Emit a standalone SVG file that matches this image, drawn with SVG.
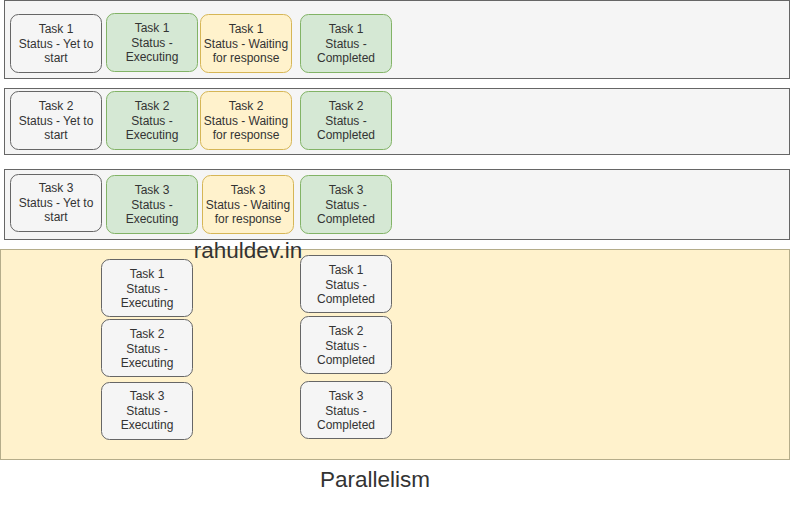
<svg xmlns="http://www.w3.org/2000/svg" width="791" height="520" viewBox="0 0 791 520">
<style>
text{font-family:"Liberation Sans",Arial,sans-serif;fill:#333333;text-anchor:middle}
.t{font-size:12px}
.big{font-size:22.5px}
.frame{fill:#f5f5f5;stroke:#666666;stroke-width:1}
.yframe{fill:#fff2cc;stroke:#b5ad8a;stroke-width:1}
.g{fill:#f5f5f5;stroke:#666666;stroke-width:1}
.gr{fill:#d5e8d4;stroke:#82b366;stroke-width:1}
.y{fill:#fff2cc;stroke:#d6b656;stroke-width:1}
</style>
<rect width="791" height="520" fill="#ffffff"/>
<g id="row1"><rect class="frame" x="4.5" y="0.5" width="785" height="78"/></g>
<g id="row2"><rect class="frame" x="4.5" y="88.5" width="785" height="66"/></g>
<g id="row3"><rect class="frame" x="4.5" y="169.5" width="785" height="70"/></g>
<g id="parallel"><rect class="yframe" x="0.5" y="249.5" width="789" height="210"/></g>

<g id="t1-yet"><rect class="g" x="10.5" y="14.5" width="91" height="58" rx="8"/>
<text class="t" x="56" y="33">Task 1</text><text class="t" x="56" y="47.5">Status - Yet to</text><text class="t" x="56" y="62">start</text></g>
<g id="t1-exec"><rect class="gr" x="106.5" y="13.5" width="91" height="58" rx="8"/>
<text class="t" x="152" y="32">Task 1</text><text class="t" x="152" y="46.5">Status -</text><text class="t" x="152" y="61">Executing</text></g>
<g id="t1-wait"><rect class="y" x="200.5" y="14.5" width="91" height="58" rx="8"/>
<text class="t" x="246" y="33">Task 1</text><text class="t" x="246" y="47.5">Status - Waiting</text><text class="t" x="246" y="62">for response</text></g>
<g id="t1-done"><rect class="gr" x="300.5" y="14.5" width="91" height="58" rx="8"/>
<text class="t" x="346" y="33">Task 1</text><text class="t" x="346" y="47.5">Status -</text><text class="t" x="346" y="62">Completed</text></g>

<g id="t2-yet"><rect class="g" x="10.5" y="91.5" width="91" height="58" rx="8"/>
<text class="t" x="56" y="110">Task 2</text><text class="t" x="56" y="124.5">Status - Yet to</text><text class="t" x="56" y="139">start</text></g>
<g id="t2-exec"><rect class="gr" x="106.5" y="91.5" width="91" height="58" rx="8"/>
<text class="t" x="152" y="110">Task 2</text><text class="t" x="152" y="124.5">Status -</text><text class="t" x="152" y="139">Executing</text></g>
<g id="t2-wait"><rect class="y" x="200.5" y="91.5" width="91" height="58" rx="8"/>
<text class="t" x="246" y="110">Task 2</text><text class="t" x="246" y="124.5">Status - Waiting</text><text class="t" x="246" y="139">for response</text></g>
<g id="t2-done"><rect class="gr" x="300.5" y="91.5" width="91" height="58" rx="8"/>
<text class="t" x="346" y="110">Task 2</text><text class="t" x="346" y="124.5">Status -</text><text class="t" x="346" y="139">Completed</text></g>

<g id="t3-yet"><rect class="g" x="10.5" y="174.5" width="91" height="57" rx="8"/>
<text class="t" x="56" y="192">Task 3</text><text class="t" x="56" y="206.5">Status - Yet to</text><text class="t" x="56" y="221">start</text></g>
<g id="t3-exec"><rect class="gr" x="106.5" y="175.5" width="91" height="58" rx="8"/>
<text class="t" x="152" y="194">Task 3</text><text class="t" x="152" y="208.5">Status -</text><text class="t" x="152" y="223">Executing</text></g>
<g id="t3-wait"><rect class="y" x="202.5" y="175.5" width="91" height="58" rx="8"/>
<text class="t" x="248" y="194">Task 3</text><text class="t" x="248" y="208.5">Status - Waiting</text><text class="t" x="248" y="223">for response</text></g>
<g id="t3-done"><rect class="gr" x="300.5" y="175.5" width="91" height="58" rx="8"/>
<text class="t" x="346" y="194">Task 3</text><text class="t" x="346" y="208.5">Status -</text><text class="t" x="346" y="223">Completed</text></g>

<g id="p1-exec"><rect class="g" x="101.5" y="259.5" width="91" height="57" rx="8"/>
<text class="t" x="147" y="278">Task 1</text><text class="t" x="147" y="292.5">Status -</text><text class="t" x="147" y="307">Executing</text></g>
<g id="p2-exec"><rect class="g" x="101.5" y="319.5" width="91" height="57" rx="8"/>
<text class="t" x="147" y="338">Task 2</text><text class="t" x="147" y="352.5">Status -</text><text class="t" x="147" y="367">Executing</text></g>
<g id="p3-exec"><rect class="g" x="101.5" y="382.5" width="91" height="57" rx="8"/>
<text class="t" x="147" y="400">Task 3</text><text class="t" x="147" y="414.5">Status -</text><text class="t" x="147" y="429">Executing</text></g>
<g id="p1-done"><rect class="g" x="300.5" y="255.5" width="91" height="57" rx="8"/>
<text class="t" x="346" y="274">Task 1</text><text class="t" x="346" y="288.5">Status -</text><text class="t" x="346" y="303">Completed</text></g>
<g id="p2-done"><rect class="g" x="300.5" y="316.5" width="91" height="57" rx="8"/>
<text class="t" x="346" y="335">Task 2</text><text class="t" x="346" y="349.5">Status -</text><text class="t" x="346" y="364">Completed</text></g>
<g id="p3-done"><rect class="g" x="300.5" y="381.5" width="91" height="57" rx="8"/>
<text class="t" x="346" y="400">Task 3</text><text class="t" x="346" y="414.5">Status -</text><text class="t" x="346" y="429">Completed</text></g>

<g id="connectors"></g>

<text class="big" x="248" y="258">rahuldev.in</text>
<text class="big" x="375" y="487">Parallelism</text>
</svg>
